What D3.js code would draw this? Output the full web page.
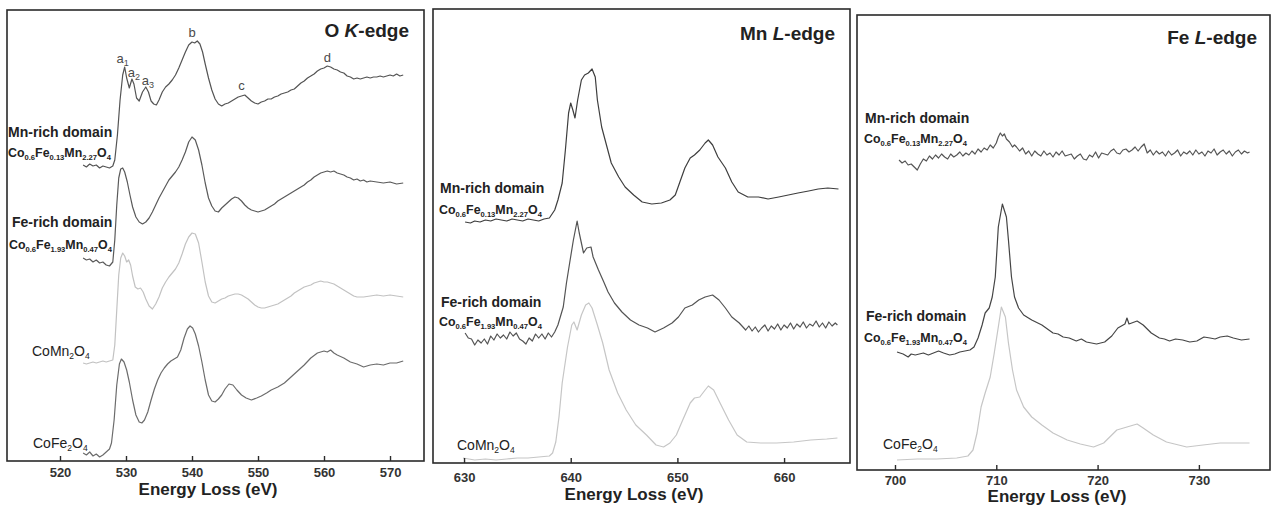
<!DOCTYPE html>
<html>
<head>
<meta charset="utf-8">
<script src="https://cdn.jsdelivr.net/npm/d3@7"></script>
<style>
  html, body { margin: 0; padding: 0; background: #fff; }
  svg { display: block; font-family: "Liberation Sans", Arial, Helvetica, sans-serif; }
</style>
</head>
<body>
<svg id="chart" width="1277" height="509"></svg>
<script>
// ---------------- data: EELS spectra, [energy loss (eV), intensity (a.u., stacked)] ----------------

// O K-edge
const oKTicks = [520, 530, 540, 550, 560, 570];
const oKMnRich = [
  [523.5,296],[524,294],[524.5,297],[525,295],[525.5,296],[526,293],[526.5,295],[527,294],[527.5,293],[528,295],
  [528.3,301],[528.7,326],[529.1,361],[529.5,386],[529.8,394],[530.1,383],[530.5,373],[530.9,382],[531.2,377],
  [531.6,363],[532,360],[532.5,369],[533,374],[533.4,369],[533.8,360],[534.2,357],[534.6,356],[535,361],[535.5,369],
  [536,374],[536.5,377],[537,381],[537.5,386],[538,393],[538.5,401],[539,409],[539.5,416],[540,419],[540.4,418],
  [540.8,420],[541.2,417],[541.6,409],[542,397],[542.5,383],[543,371],[543.5,362],[544,357],[544.5,355],[545,357],
  [545.5,358],[546,360],[546.5,362],[547,364],[547.5,365],[548,366],[548.5,363],[549,360],[549.5,358],[550,357],
  [550.5,359],[551,360],[551.5,362],[552,362],[552.5,364],[553,365],[553.5,367],[554,368],[554.5,369],[555,371],
  [555.5,372],[556,375],[556.5,378],[557,380],[557.5,383],[558,385],[558.5,387],[559,390],[559.5,392],[560,393],
  [560.5,395],[561,394],[561.5,392],[562,391],[562.5,389],[563,388],[563.5,385],[564,384],[564.5,382],[565,383],
  [565.5,382],[566,383],[566.5,384],[567,383],[567.5,384],[568,384],[568.5,385],[569,384],[569.5,385],[570,386],
  [570.5,385],[571,387],[571.5,385],[572,386]
];
const oKFeRich = [
  [523.5,203],[524,201],[524.5,202],[525,199],[525.5,201],[526,198],[526.5,199],[527,196],[527.5,195],[528,199],
  [528.3,221],[528.6,256],[528.9,283],[529.2,292],[529.5,293],[529.8,289],[530.2,279],[530.6,266],[531,254],
  [531.5,244],[532,239],[532.5,237],[533,239],[533.5,243],[534,249],[534.5,256],[535,263],[535.5,269],[536,275],
  [536.5,281],[537,285],[537.5,289],[538,294],[538.5,301],[539,309],[539.5,319],[540,324],[540.5,321],[541,311],
  [541.5,296],[542,278],[542.5,263],[543,255],[543.5,250],[544,249],[544.5,253],[545,256],[545.5,259],[546,262],
  [546.5,264],[547,263],[547.5,260],[548,256],[548.5,253],[549,251],[549.5,250],[550,249],[550.5,250],[551,251],
  [551.5,253],[552,255],[552.5,257],[553,260],[553.5,262],[554,264],[554.5,266],[555,268],[555.5,270],[556,272],
  [556.5,274],[557,276],[557.5,279],[558,281],[558.5,284],[559,286],[559.5,288],[560,289],[560.5,290],[561,289],
  [561.5,290],[562,288],[562.5,287],[563,286],[563.5,284],[564,283],[564.5,281],[565,282],[565.5,280],[566,281],
  [566.5,279],[567,280],[568,279],[569,278],[570,279],[571,277],[572,278]
];
const oKCoMn2O4 = [
  [523.5,98],[524,97],[524.5,98],[525,99],[525.5,98],[526,99],[526.5,100],[527,99],[527.5,100],[528,101],
  [528.3,116],[528.6,151],[528.9,186],[529.2,203],[529.5,208],[529.8,205],[530.1,199],[530.4,201],[530.7,196],
  [531,185],[531.4,174],[531.8,172],[532.2,173],[532.6,169],[533,162],[533.5,155],[534,152],[534.5,157],[535,164],
  [535.5,173],[536,179],[536.5,184],[537,188],[537.5,192],[538,198],[538.5,207],[539,217],[539.5,224],[540,228],
  [540.5,227],[541,218],[541.5,199],[542,179],[542.5,165],[543,159],[543.5,158],[544,160],[544.5,162],[545,163],
  [545.5,165],[546,166],[546.5,167],[547,167],[547.5,166],[548,164],[548.5,162],[549,159],[549.5,156],[550,154],
  [550.5,153],[551,153],[551.5,154],[552,155],[552.5,156],[553,157],[553.5,159],[554,161],[554.5,163],[555,165],
  [555.5,168],[556,170],[556.5,172],[557,174],[557.5,175],[558,176],[558.5,178],[559,179],[559.5,180],[560,179],
  [560.5,179],[561,178],[561.5,177],[562,175],[562.5,173],[563,171],[563.5,169],[564,167],[564.5,165],[565,164],
  [566,164],[567,165],[568,166],[569,165],[570,166],[571,165],[572,164]
];
const oKCoFe2O4 = [
  [523.5,8],[524,6],[524.5,9],[525,5],[525.5,7],[526,4],[526.5,6],[527,9],[527.5,12],[527.8,18],
  [528.2,41],[528.6,76],[529,97],[529.3,102],[529.7,99],[530.1,91],[530.5,79],[531,61],[531.5,46],[532,39],
  [532.4,38],[532.8,41],[533.3,49],[533.8,61],[534.3,72],[534.8,81],[535.3,88],[535.8,93],[536.3,97],[536.8,100],
  [537.3,102],[537.8,104],[538.3,111],[538.8,123],[539.3,132],[539.7,135],[540.1,133],[540.5,127],[541,115],
  [541.5,99],[542,81],[542.5,66],[543,60],[543.5,59],[544,62],[544.5,66],[545,72],[545.6,77],[546.2,76],
  [546.8,71],[547.5,66],[548.2,63],[549,61],[549.8,63],[550.5,65],[551.3,68],[552,71],[553,74],[554,78],
  [555,84],[556,90],[557,96],[558,103],[559,108],[560,110],[560.5,109],[561,111],[561.5,108],[562,106],
  [563,103],[564,99],[565,97],[566,94],[567,96],[568,97],[569,96],[570,98],[571,98],[572,100]
];

// Mn L-edge
const mnLTicks = [630, 640, 650, 660];
const mnLMnRich = [
  [630.1,241],[630.6,240],[631,242],[631.5,241],[632,243],[632.5,242],[633,244],[633.5,243],[634,242],[634.5,244],
  [635,243],[635.5,242],[636,244],[636.5,243],[637,242],[637.5,244],[638,245],[638.5,253],[638.8,263],[639.2,280],
  [639.5,313],[639.8,350],[640,360],[640.2,353],[640.4,345],[640.65,363],[641,383],[641.3,388],[641.65,390],
  [642,394],[642.3,386],[642.5,363],[642.9,336],[643.4,316],[643.8,300],[644.5,286],[645.1,276],[645.9,268],
  [646.7,261],[647.6,259],[648.5,260],[649.3,263],[649.8,268],[650.2,280],[650.7,295],[651.2,305],[651.6,308],
  [652.1,313],[652.6,320],[652.9,323],[653.3,318],[653.8,306],[654.5,295],[655.1,281],[655.7,271],[656.6,266],
  [657.6,266],[658.5,264],[659.5,266],[660.4,268],[661.3,270],[662.3,272],[663.2,274],[664.1,275],[665.1,274]
];
const mnLFeRich = [
  [630.1,130],[630.4,125],[630.7,124],[631,118],[631.3,123],[631.6,120],[631.9,124],[632.2,119],[632.5,127],
  [632.8,123],[633.1,129],[633.4,125],[633.7,128],[634,124],[634.3,131],[634.6,127],[634.9,130],[635.2,124],
  [635.5,122],[635.8,119],[636.1,125],[636.4,122],[636.7,129],[637,125],[637.3,129],[637.6,124],[637.9,130],
  [638.2,126],[638.5,131],[638.8,138],[639.3,156],[639.6,180],
  [639.9,200],[640.25,223],[640.6,242],[640.8,230],[641.2,210],[641.5,215],[641.9,216],[642.1,206],[642.6,193],
  [643.1,181],[643.5,171],[644.1,160],[644.8,151],[645.6,143],[646.4,138],[647.2,135],[647.9,131],[648.7,135],
  [649.5,140],[650.1,146],[650.7,155],[651.4,158],[652,163],[652.6,166],[653.3,168],[653.9,163],[654.5,155],
  [655.1,146],[655.8,140],[656.4,133],[656.7,137],[657,132],[657.3,136],[657.6,131],[657.9,135],[658.2,138],
  [658.5,132],[658.8,137],[659.1,134],[659.4,139],[659.7,133],[660,138],[660.3,135],[660.6,140],[660.9,134],
  [661.2,139],[661.5,136],[661.8,141],[662.1,135],[662.4,139],[662.7,137],[663,142],[663.3,136],[663.6,140],
  [663.9,135],[664.2,141],[664.5,137],[664.8,140],[665,138]
];
const mnLCoMn2O4 = [
  [629.9,5],[631,3],[632,4],[633,3],[634,4],[635,5],[636,5],[637,6],[638,7],[638.3,10],[638.6,21],[638.9,46],
  [639.2,80],[639.7,116],[640.1,138],[640.3,141],[640.6,133],[641,148],[641.4,158],[641.7,160],[642,155],
  [642.5,138],[643,120],[643.6,93],[644.4,70],[645.2,53],[646.1,38],[647.1,28],[648,18],[648.7,16],[649.3,20],
  [649.9,28],[650.5,43],[651.2,60],[651.6,65],[652.1,66],[652.6,73],[652.9,77],[653.4,73],[654,60],[654.8,43],
  [655.6,28],[656.5,21],[657.8,20],[659.3,20],[660.9,21],[662.5,23],[664,24],[665,25]
];

// Fe L-edge
const feLTicks = [700, 710, 720, 730];
const feLMnRich = [
  [700.4,310],[700.7,307],[701,309],[701.3,305],[701.6,306],[701.9,303],[702.2,300],[702.5,306],[702.8,311],
  [703.1,309],[703.4,314],[703.7,311],[704,315],[704.3,312],[704.6,316],[704.9,313],[705.2,311],[705.5,316],
  [705.8,313],[706.1,315],[706.4,318],[706.7,314],[707,317],[707.3,315],[707.6,319],[707.9,316],[708.2,321],
  [708.5,318],[708.8,322],[709.1,320],[709.4,325],[709.7,322],[710,327],[710.2,333],[710.4,337],[710.6,334],
  [710.8,336],[711,331],[711.3,328],[711.6,323],[711.8,325],
  [712,323],[712.3,319],[712.6,322],[712.9,316],[713.2,319],[713.5,314],[713.8,319],[714.1,316],[714.4,314],
  [714.7,319],[715,315],[715.3,317],[715.6,313],[715.9,318],[716.2,315],[716.5,319],[716.8,314],[717.1,315],
  [717.4,316],[717.7,311],[718,314],[718.3,316],[718.6,311],[718.9,310],[719.2,315],[719.5,313],[719.8,318],
  [720.1,312],[720.4,317],[720.7,316],[721,315],[721.3,319],[721.6,321],[721.9,317],[722.2,316],[722.5,320],
  [722.8,321],[723.1,318],[723.4,320],[723.7,323],[724,319],[724.3,323],[724.6,326],[724.9,317],[725.2,320],
  [725.5,315],[725.8,319],[726.1,316],[726.4,318],[726.7,314],[727,319],[727.3,315],[727.6,317],[727.9,320],
  [728.2,314],[728.5,318],[728.8,316],[729.1,319],[729.4,315],[729.7,320],[730,316],[730.3,318],[730.6,314],
  [730.9,319],[731.2,317],[731.5,321],[731.8,315],[732.1,318],[732.4,320],[732.7,316],[733,319],[733.3,314],
  [733.6,318],[733.9,320],[734.2,316],[734.5,319],[734.8,317],[735,318]
];
const feLFeRich = [
  [700.2,118],[700.8,116],[701.3,113],[701.6,116],[702,115],[702.8,117],[703.3,115],[703.8,117],[704.3,119],
  [704.8,117],[705.4,115],[705.9,116],[706.4,118],[707.4,120],[707.8,123],[708.2,132],[708.6,145],[708.9,157],
  [709.3,162],[709.6,173],[709.9,193],[710.2,243],[710.6,266],[711,253],[711.2,230],[711.5,193],[711.8,173],
  [712.2,162],[712.7,155],[713.5,150],[714.5,145],[715.6,137],[716.1,136],[716.6,133],[717.2,132],[717.9,129],
  [718.4,131],[718.9,128],[719.4,127],[719.9,126],[720.7,128],[721.4,134],[722,142],[722.7,146],[722.9,152],
  [723.1,146],[723.9,149],[724.5,145],[725.3,137],[726.1,132],[726.6,131],[727.1,129],[727.7,131],[728.4,130],
  [729.1,128],[729.8,129],[730.5,133],[731.1,132],[731.6,131],[732.1,133],[732.8,134],[733.4,132],[734.2,130],
  [735,131]
];
const feLCoFe2O4 = [
  [700.2,10],[702.2,11],[704.1,11],[706.1,12],[707.2,14],[707.7,20],[708.1,37],[708.5,63],[708.9,77],[709.4,93],
  [709.8,117],[710.2,143],[710.5,163],[710.9,153],[711.2,127],[711.6,100],[712,80],[712.7,63],[713.5,53],
  [714.5,45],[715.6,37],[717,30],[718.3,26],[719.6,23],[720.6,27],[721.2,33],[721.9,40],[722.9,43],[723.9,46],
  [724.5,42],[725.5,35],[726.8,28],[728.8,23],[730.4,25],[732.1,27],[733.4,27],[735,27]
];

// sample names and formulas (formula parts alternate: element, subscript)
const domainMn = "Mn-rich domain";
const domainFe = "Fe-rich domain";
const formulaMnRich = ["Co", "0.6", "Fe", "0.13", "Mn", "2.27", "O", "4"];
const formulaFeRich = ["Co", "0.6", "Fe", "1.93", "Mn", "0.47", "O", "4"];
const formulaCoMn2O4 = ["Co", "", "Mn", "2", "O", "4"];
const formulaCoFe2O4 = ["Co", "", "Fe", "2", "O", "4"];

// O K-edge fine-structure features: [letter, subscript, energy, intensity]
const oKFeatures = [
  ["a", "1", 529.5, 398], ["a", "2", 531.2, 384], ["a", "3", 533.3, 376],
  ["b", "", 540.0, 424], ["c", "", 547.5, 371], ["d", "", 560.5, 399]
];

// ---------------- drawing ----------------
const svg = d3.select("#chart");
const INK = "#222";

const panels = [
  {
    left: 7, right: 424, top: 10, bottom: 461, xDomain: [511.97, 575.15], ticks: oKTicks,
    tickPad: 7, axisTitle: { x: 208, y: 495 },
    title: { parts: [["O ", false], ["K", true], ["-edge", false]], x: 409, y: 37 },
    series: [
      { data: oKMnRich, color: "#545454" },
      { data: oKFeRich, color: "#5a5a5a" },
      { data: oKCoMn2O4, color: "#c2c2c2" },
      { data: oKCoFe2O4, color: "#6c6c6c" }
    ],
    labels: [
      { kind: "name", text: domainMn, x: 8, y: 137 },
      { kind: "formula", parts: formulaMnRich, x: 8, y: 157 },
      { kind: "name", text: domainFe, x: 12, y: 227 },
      { kind: "formula", parts: formulaFeRich, x: 9, y: 249 },
      { kind: "compound", parts: formulaCoMn2O4, x: 32, y: 356 },
      { kind: "compound", parts: formulaCoFe2O4, x: 33, y: 448 }
    ],
    features: oKFeatures
  },
  {
    left: 433, right: 850, top: 9, bottom: 463, xDomain: [627.09, 666.18], ticks: mnLTicks,
    tickPad: 10, axisTitle: { x: 634, y: 500 },
    title: { parts: [["Mn ", false], ["L", true], ["-edge", false]], x: 835, y: 40 },
    series: [
      { data: mnLMnRich, color: "#3e3e3e" },
      { data: mnLFeRich, color: "#545454" },
      { data: mnLCoMn2O4, color: "#c6c6c6" }
    ],
    labels: [
      { kind: "name", text: domainMn, x: 440, y: 193 },
      { kind: "formula", parts: formulaMnRich, x: 439, y: 214 },
      { kind: "name", text: domainFe, x: 441, y: 307 },
      { kind: "formula", parts: formulaFeRich, x: 439, y: 326 },
      { kind: "compound", parts: formulaCoMn2O4, x: 457, y: 450 }
    ],
    features: []
  },
  {
    left: 857, right: 1270, top: 15, bottom: 470, xDomain: [696.25, 737.02], ticks: feLTicks,
    tickPad: 6, axisTitle: { x: 1057, y: 502 },
    title: { parts: [["Fe ", false], ["L", true], ["-edge", false]], x: 1257, y: 44 },
    series: [
      { data: feLMnRich, color: "#555555" },
      { data: feLFeRich, color: "#454545" },
      { data: feLCoFe2O4, color: "#c6c6c6" }
    ],
    labels: [
      { kind: "name", text: domainMn, x: 865, y: 123 },
      { kind: "formula", parts: formulaMnRich, x: 864, y: 143 },
      { kind: "name", text: domainFe, x: 866, y: 321 },
      { kind: "formula", parts: formulaFeRich, x: 864, y: 342 },
      { kind: "compound", parts: formulaCoFe2O4, x: 883, y: 449 }
    ],
    features: []
  }
];

// element symbols with subscripted counts
function chemText(g, parts, x, y, mainSize, subSize, weight) {
  const t = g.append("text").attr("x", x).attr("y", y)
    .attr("fill", INK).attr("font-weight", weight);
  let shifted = false;
  parts.forEach((p, i) => {
    const isSub = i % 2 === 1;
    if (p === "") return;
    const ts = t.append("tspan").text(p).attr("font-size", isSub ? subSize : mainSize);
    if (isSub && !shifted) { ts.attr("dy", 2.5); shifted = true; }
    if (!isSub && shifted) { ts.attr("dy", -2.5); shifted = false; }
  });
  return t;
}

panels.forEach(p => {
  const g = svg.append("g");
  const x = d3.scaleLinear().domain(p.xDomain).range([p.left, p.right]);
  const y = d3.scaleLinear().domain([0, p.bottom - p.top]).range([p.bottom, p.top]);

  // spectra
  const line = d3.line().x(d => x(d[0])).y(d => y(d[1]));
  p.series.forEach(s => {
    g.append("path").datum(s.data)
      .attr("d", line)
      .attr("fill", "none")
      .attr("stroke", s.color)
      .attr("stroke-width", 1.2)
      .attr("stroke-linejoin", "round");
  });

  // frame
  g.append("rect")
    .attr("x", p.left).attr("y", p.top)
    .attr("width", p.right - p.left).attr("height", p.bottom - p.top)
    .attr("fill", "none").attr("stroke", "#2a2a2a").attr("stroke-width", 1.6);

  // energy axis with inward ticks
  const ax = g.append("g").attr("transform", `translate(0,${p.bottom})`)
    .call(d3.axisBottom(x).tickValues(p.ticks).tickSize(-5).tickSizeOuter(0)
      .tickPadding(p.tickPad).tickFormat(d3.format("d")));
  ax.select(".domain").remove();
  ax.selectAll(".tick line").attr("stroke", "#2a2a2a").attr("stroke-width", 1.4);
  ax.selectAll(".tick text")
    .attr("font-family", "'Liberation Sans', Arial, sans-serif")
    .attr("font-size", 13).attr("font-weight", "bold").attr("fill", "#333");

  g.append("text")
    .attr("x", p.axisTitle.x).attr("y", p.axisTitle.y)
    .attr("text-anchor", "middle")
    .attr("font-size", 17).attr("font-weight", "bold").attr("fill", INK)
    .text("Energy Loss (eV)");

  // edge title
  const tt = g.append("text").attr("x", p.title.x).attr("y", p.title.y)
    .attr("text-anchor", "end").attr("font-size", 19).attr("font-weight", "bold").attr("fill", INK);
  p.title.parts.forEach(([s, it]) => {
    tt.append("tspan").text(s).attr("font-style", it ? "italic" : "normal");
  });

  // sample labels
  p.labels.forEach(l => {
    if (l.kind === "name") {
      g.append("text").attr("x", l.x).attr("y", l.y)
        .attr("font-size", 14).attr("font-weight", "bold").attr("fill", INK).text(l.text);
    } else if (l.kind === "formula") {
      chemText(g, l.parts, l.x, l.y, 12.4, 7.6, "bold");
    } else {
      chemText(g, l.parts, l.x, l.y, 14, 8.5, "normal");
    }
  });

  // feature letters
  p.features.forEach(([letter, sub, e, v]) => {
    const t = g.append("text").attr("x", x(e)).attr("y", y(v))
      .attr("text-anchor", "middle").attr("fill", "#4a4a4a").attr("font-size", 13);
    t.append("tspan").text(letter);
    if (sub) t.append("tspan").text(sub).attr("font-size", 9).attr("dy", 3);
  });
});
</script>
</body>
</html>
